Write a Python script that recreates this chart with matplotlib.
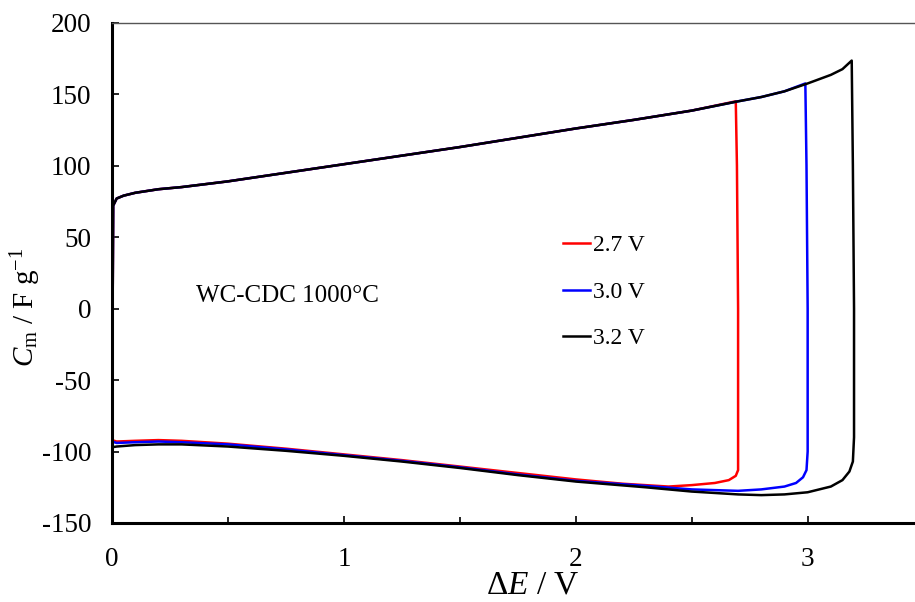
import matplotlib
matplotlib.use("Agg")
import matplotlib.pyplot as plt

plt.rcParams['font.family'] = ['Liberation Serif', 'DejaVu Serif']
plt.rcParams['mathtext.fontset'] = 'custom'
plt.rcParams['mathtext.rm'] = 'Liberation Serif'
plt.rcParams['mathtext.it'] = 'Liberation Serif:italic'
plt.rcParams['mathtext.bf'] = 'Liberation Serif:bold'
plt.rcParams['axes.unicode_minus'] = False

# Shared charge (upper) branch
upper_x = [0.0, 0.005, 0.02, 0.05, 0.1, 0.2, 0.3, 0.5, 0.75, 1.0, 1.25, 1.5, 1.75,
           2.0, 2.25, 2.5, 2.7, 2.8, 2.9, 3.0, 3.1, 3.15, 3.2]
upper_y = [-92, 72, 77, 79, 81, 83.5, 85, 89, 95, 101, 107, 113, 119.5,
           126, 132, 138.5, 145, 148, 152, 157.5, 163.5, 167.5, 173.5]

# Reverse (lower) branches
red_x = [2.69, 2.695, 2.70, 2.70, 2.70, 2.69, 2.66, 2.6, 2.5, 2.4, 2.2, 2.0, 1.75, 1.5,
         1.25, 1.0, 0.75, 0.5, 0.3, 0.2, 0.1, 0.02, 0.0]
red_y = [145, 100, 0, -100, -113, -117, -120, -122, -123.5, -124.5, -122.5, -119.5, -115,
         -110.5, -106, -102, -98, -94.5, -92.5, -92, -92.5, -93, -92]

blue_x = [2.99, 2.995, 3.0, 3.0, 2.995, 2.98, 2.95, 2.9, 2.8, 2.7, 2.5, 2.3, 2.0, 1.75,
          1.5, 1.25, 1.0, 0.75, 0.5, 0.3, 0.2, 0.1, 0.02, 0.0]
blue_y = [157.5, 100, 0, -100, -113, -118, -122, -124.5, -126.5, -127.5, -126.5, -124,
          -120.5, -116, -111, -106.5, -102.5, -98.5, -95, -93.5, -93, -93.5, -94, -93]

black_x = [3.19, 3.195, 3.2, 3.2, 3.195, 3.18, 3.15, 3.1, 3.0, 2.9, 2.8, 2.7, 2.5, 2.3,
           2.0, 1.75, 1.5, 1.25, 1.0, 0.75, 0.5, 0.3, 0.2, 0.1, 0.02, 0.0]
black_y = [173.5, 100, 0, -90, -107, -114, -120, -124.5, -128.5, -130, -130.5, -130,
           -128, -125, -121, -116.5, -111.5, -107, -103, -99.5, -96.5, -95, -95,
           -95.5, -96.5, -97]

series = [
    ("2.7 V", 2.7, red_x, red_y, "#ff0000"),
    ("3.0 V", 3.0, blue_x, blue_y, "#0000ff"),
    ("3.2 V", 3.2, black_x, black_y, "#000000"),
]

fig = plt.figure(figsize=(9.15, 6.02), dpi=100)
ax = fig.add_axes([112 / 915, 79 / 602, 811.6 / 915, 500.3 / 602])

for label, vmax, lx, ly, col in series:
    ux = [x for x in upper_x if x < vmax - 0.001]
    uy = upper_y[:len(ux)]
    xs = ux + lx + [0.0]
    ys = uy + ly + [upper_y[0]]
    ax.plot(xs, ys, color=col, lw=1.8, label=label, solid_joinstyle='round')

ax.set_xlim(0, 3.5)
ax.set_ylim(-150, 200)
ax.set_xticks([0, 1, 2, 3])
ax.set_xticks([0.5, 1.5, 2.5], minor=True)
ax.set_yticks(range(-150, 201, 50))
ax.tick_params(axis='both', which='major', direction='in', length=5, width=1.2,
               labelsize=19.5, colors='black')
ax.tick_params(axis='x', which='minor', direction='in', length=4, width=1.2)
ax.tick_params(axis='x', which='major', pad=17)
ax.tick_params(axis='y', which='major', pad=15)
ax.tick_params(top=False, right=False)

ax.spines['left'].set_linewidth(2.2)
ax.spines['bottom'].set_linewidth(2.2)
ax.spines['top'].set_linewidth(1.0)
ax.spines['top'].set_color('#555555')
ax.spines['right'].set_visible(False)

ax.set_xlabel(r'$\Delta\mathit{E}$ / V', fontsize=24)
ax.set_ylabel(r'$\mathit{C}_{\mathrm{m}}$ / F g$^{-1}$', fontsize=21)
ax.xaxis.set_label_coords((533 - 112) / 811.6, (523 - 570) / 500.3)
ax.yaxis.set_label_coords((43 - 112) / 811.6, (523 - 307) / 500.3)

ax.text(0.362, 9, 'WC-CDC 1000°C', fontsize=18, va='center', ha='left')

leg = ax.legend(loc='center left', bbox_to_anchor=(0.5557, 0.4617), frameon=False,
                fontsize=17, handlelength=1.15, handletextpad=0.1, labelspacing=1.05,
                borderpad=0, borderaxespad=0)

fig.savefig('out.png', dpi=100)
